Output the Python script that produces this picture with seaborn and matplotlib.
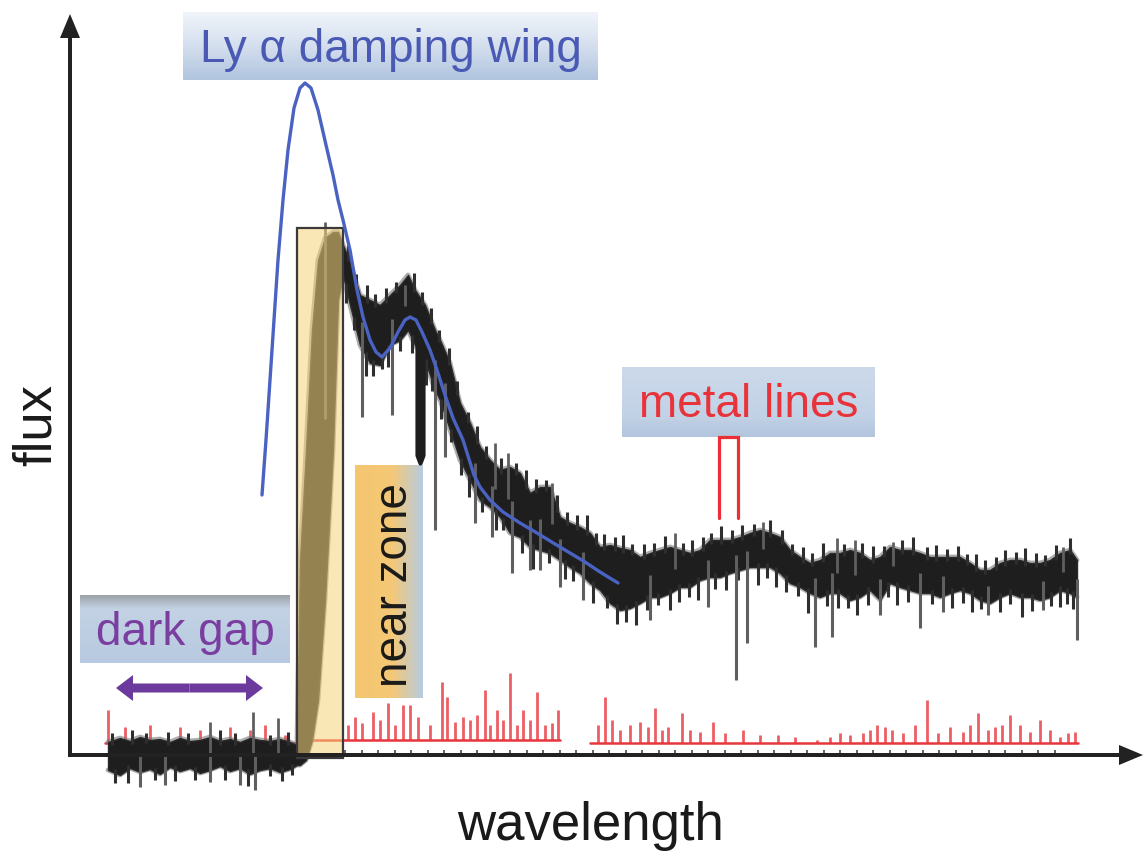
import numpy as np
import matplotlib
matplotlib.use("Agg")
import matplotlib.pyplot as plt
import seaborn as sns
from matplotlib.colors import LinearSegmentedColormap
from matplotlib.patches import Rectangle

# ---------------- data (wavelength / flux, arbitrary units) ----------------
spec_x = [38, 50, 60, 70, 80, 90, 100, 110, 120, 130, 140, 150, 160, 170, 180, 190, 200, 210, 220, 227,
          230, 236, 242, 248, 255, 263, 268, 273,
          280, 290, 300, 310, 320, 330, 338, 345, 355, 365, 370,
          380, 390, 400, 410, 420, 430, 440, 450, 460, 470, 480, 490, 500, 510, 520, 530, 540, 550, 560,
          570, 580, 590, 600, 610, 620, 630, 640, 650, 660, 670, 680, 690, 700, 710, 720, 730, 740, 750,
          760, 770, 780, 790, 800, 810, 820, 830, 840, 850, 860, 870, 880, 890, 900, 910, 920, 930, 940,
          950, 960, 970, 980, 990, 1000, 1007]
spec_hi = [13, 17, 14, 18, 15, 16, 13, 17, 14, 15, 18, 14, 16, 13, 17, 15, 14, 16, 13, 10,
           195, 305, 425, 495, 517, 523, 523, 510,
           493, 460, 455, 450, 460, 470, 480, 465, 450, 425, 415,
           392, 352, 332, 308, 295, 285, 288, 282, 262, 268, 268, 238, 232, 228, 222, 208, 210, 207, 205,
           198, 202, 205, 208, 205, 202, 205, 215, 215, 215, 218, 222, 225, 222, 218, 205, 198, 192, 195,
           202, 202, 205, 202, 195, 198, 208, 205, 205, 202, 198, 198, 198, 198, 192, 185, 185, 192, 195,
           195, 192, 192, 195, 202, 205, 195]
spec_lo = [-15, -20, -13, -17, -14, -19, -12, -16, -13, -18, -15, -11, -16, -13, -19, -15, -13, -17, -14, -10,
           -10, -5, 15, 55, 155, 305, 455, 480,
           450, 410, 392, 390, 410, 415, 425, 410, 395, 365, 355,
           325, 295, 275, 255, 248, 238, 222, 218, 208, 205, 202, 195, 188, 182, 172, 165, 152, 145, 147,
           152, 158, 158, 162, 168, 168, 175, 178, 178, 182, 185, 188, 188, 188, 182, 172, 168, 162, 158,
           162, 162, 155, 158, 165, 155, 172, 168, 165, 162, 162, 158, 162, 165, 162, 155, 152, 158, 162,
           158, 158, 155, 158, 165, 162, 158]

# narrow absorption features (tip of each line)
abs_x = [70, 95, 140, 170, 185, 292, 322, 365, 375, 405, 422, 442, 460, 470, 490, 513,
         580, 638, 666, 677, 745, 762, 810, 850, 873, 918, 973, 1007]
abs_y = [-32, -30, -27, -30, -35, 338, 340, 225, 298, 232, 218, 182, 185, 185, 168, 155,
         135, 148, 75, 112, 108, 118, 140, 127, 143, 140, 145, 115]
trough_x = [347, 350, 353]
trough_y = [300, 292, 300]
# narrow noise peaks
peak_x = [140, 183, 208, 255, 335, 425, 438, 482, 605, 693, 767, 785, 823, 993]
peak_y = [33, 43, 37, 533, 470, 312, 302, 272, 222, 233, 217, 215, 213, 208]

# pixel-scale noise excursions beyond the envelope
hair_up_x = [42, 62, 76, 98, 118, 150, 165, 200, 218,
             278, 286, 297, 305, 316, 326, 344, 352, 361, 369, 379, 387, 398, 407, 416, 431, 446, 456,
             466, 476, 487, 497, 507, 517, 526, 534, 545, 553, 562, 574, 584, 595, 613, 622, 633, 641,
             651, 662, 672, 684, 700, 712, 722, 733, 742, 753, 774, 792, 803, 814, 832, 843, 857, 866,
             877, 888, 897, 906, 915, 926, 935, 946, 955, 966, 975, 986, 1000]
hair_up_len = [8, 10, 6, 9, 7, 11, 8, 6, 9,
               12, 8, 14, 9, 11, 7, 15, 9, 12, 8, 13, 10, 7, 14, 9, 12, 8, 15,
               10, 7, 13, 9, 11, 16, 8, 12, 10, 14, 7, 11, 9, 13, 8, 12, 10, 7,
               14, 9, 11, 8, 13, 10, 7, 12, 9, 15, 8, 11, 13, 7, 10, 14, 9, 12,
               8, 11, 7, 13, 10, 9, 12, 8, 14, 10, 7, 11, 12]
hair_dn_x = [45, 58, 85, 105, 125, 155, 178, 200, 212, 222,
             276, 284, 296, 303, 312, 318, 330, 342, 356, 362, 371, 381, 391, 399, 412, 426, 433, 452,
             463, 479, 495, 503, 523, 537, 547, 556, 566, 577, 588, 600, 609, 619, 628, 645, 656, 668,
             688, 697, 706, 716, 728, 738, 757, 768, 778, 787, 798, 818, 827, 838, 862, 882, 893, 902,
             911, 930, 940, 952, 962, 981, 990, 997, 1003]
hair_dn_len = [10, 14, 8, 12, 9, 11, 13, 8, 10, 7,
               15, 9, 20, 12, 8, 18, 11, 14, 22, 10, 16, 9, 13, 19, 11, 17, 8, 14,
               21, 10, 15, 12, 18, 9, 16, 13, 20, 11, 8, 17, 14, 10, 19, 12, 15, 9,
               18, 11, 16, 13, 10, 21, 12, 15, 9, 17, 14, 11, 19, 13, 10, 16, 12, 18,
               9, 15, 11, 20, 13, 10, 17, 12, 14]

# damping-wing model
wing_x = [192, 196, 200, 204, 208, 213, 218, 224, 230, 235, 241, 248, 256, 263, 268, 273, 280, 287, 293,
          300, 306, 312, 320, 328, 335, 340, 346, 352, 360, 367, 375, 383, 393, 404, 410, 420, 433, 450,
          467, 485, 500, 515, 530, 548]
wing_y = [260, 315, 375, 435, 495, 555, 605, 647, 667, 672, 667, 645, 610, 580, 555, 535, 505, 465, 438,
          415, 403, 398, 407, 423, 435, 438, 435, 423, 405, 385, 360, 337, 315, 280, 268, 255, 243, 232,
          222, 211, 202, 193, 183, 172]

# noise / sky spectrum (red): baseline pieces and line peaks
red_start = [35, 227, 520]
red_end = [227, 490, 1008]
red_level = [12, 15, 12]
red_x = [38, 55, 80, 110, 130, 160, 180, 195, 215,
         278, 285, 292, 303, 310, 318, 325, 333, 340, 348, 360, 372, 377, 385, 393, 400, 407, 415, 420,
         427, 433, 440, 447, 453, 460, 467, 475, 482, 488,
         528, 535, 542, 550, 560, 570, 578, 585, 592, 598, 612, 620, 630, 643, 655, 673, 690, 708, 725,
         747, 760, 770, 780, 793, 800, 807, 815, 822, 833, 845, 857, 868, 880, 893, 900, 908, 918, 925,
         932, 940, 950, 960, 970, 980, 990, 998, 1005]
red_y = [45, 28, 30, 28, 25, 28, 25, 30, 20,
         30, 38, 32, 43, 35, 52, 30, 50, 50, 38, 30, 73, 58, 33, 38, 35, 40, 65, 30,
         45, 35, 82, 30, 45, 35, 63, 30, 32, 45,
         30, 58, 35, 25, 30, 33, 28, 47, 25, 28, 42, 25, 23, 33, 22, 25, 20, 20, 18,
         15, 18, 22, 20, 22, 25, 30, 28, 25, 22, 30, 55, 22, 28, 23, 30, 42, 25, 28,
         30, 40, 30, 23, 35, 25, 18, 22, 23]

# labelled regions
lya_box = (113, 528, 675, 743)
metal_box = (552, 805, 318, 388)
gap_box = (10, 220, 92, 160)
near_box = (285, 353, 57, 290)
zone_box = (227, 273, -3, 527)
bracket_x = [649, 649, 668, 668]
bracket_y = [237, 318, 318, 237]
gap_arrow = (46, 193, 67)

# ---------------- figure ----------------
sns.set_theme(style="white")
plt.rcParams["font.family"] = ["Liberation Sans", "DejaVu Sans"]

fig = plt.figure(figsize=(11.45, 8.58), dpi=100)
ax = fig.add_axes([0, 0, 1, 1])
ax.set_facecolor("white")


def gradient_box(box, stops, horizontal=False, z=1):
    x0, x1, y0, y1 = box
    cmap = LinearSegmentedColormap.from_list("g", stops)
    ramp = np.linspace(0, 1, 256)
    arr = ramp.reshape(1, -1) if horizontal else ramp.reshape(-1, 1)
    ax.imshow(arr, cmap=cmap, extent=(x0, x1, y0, y1), origin="upper",
              aspect="auto", zorder=z, interpolation="bilinear")


gradient_box(lya_box, [(0, "#f1f5fa"), (0.5, "#d4dfee"), (1, "#b0c4de")])
gradient_box(metal_box, [(0, "#ccd9ea"), (0.7, "#c2d2e6"), (1, "#b2c5de")])
gradient_box(gap_box, [(0, "#9da2a8"), (0.2, "#c3d2e4"), (1, "#b8cae1")])
gradient_box(near_box, [(0, "#f5c66f"), (0.55, "#f4c877"), (1, "#b7cce2")], horizontal=True)

# red spectrum
for s, e, lv in zip(red_start, red_end, red_level):
    sns.lineplot(x=[s, e], y=[lv, lv], ax=ax, color="#e8363c", lw=1.8, zorder=2)
base = np.interp(red_x, [35, 227, 228, 490, 520, 1008], [12, 12, 15, 15, 12, 12])
ax.vlines(red_x, base, red_y, color="#e8363c", lw=2.0, alpha=0.8, zorder=2)

# black spectrum
hi = np.array(spec_hi, float)
lo = np.array(spec_lo, float)
mid = (lo + hi) / 2
ax.plot(spec_x, hi, color="#777777", lw=3.5, alpha=0.6, zorder=3)
ax.plot(spec_x, lo, color="#777777", lw=3.5, alpha=0.6, zorder=3)
ax.fill_between(spec_x, lo, hi, color="#1e1e1e", lw=1.0, edgecolor="#2a2a2a", zorder=3)

up_base = np.interp(hair_up_x, spec_x, hi)
ax.vlines(hair_up_x, up_base - 4, up_base + np.array(hair_up_len), color="#2e2e2e", lw=2.2, zorder=3)
dn_base = np.interp(hair_dn_x, spec_x, lo)
ax.vlines(hair_dn_x, dn_base + 4, dn_base - np.array(hair_dn_len), color="#2e2e2e", lw=2.2, zorder=3)

ax.vlines(abs_x, np.interp(abs_x, spec_x, mid), abs_y, color="#5f5f5f", lw=2.2, zorder=3)
ax.vlines(peak_x, np.interp(peak_x, spec_x, mid), peak_y, color="#5f5f5f", lw=2.0, zorder=3)
ax.fill_between(trough_x, np.interp(trough_x, spec_x, mid), trough_y, color="#1e1e1e", lw=3,
                edgecolor="#1e1e1e", zorder=3)

# near-zone highlight
zx0, zx1, zy0, zy1 = zone_box
ax.add_patch(Rectangle((zx0, zy0), zx1 - zx0, zy1 - zy0, facecolor="#f7d57a", alpha=0.55,
                       edgecolor="none", zorder=4))
ax.add_patch(Rectangle((zx0, zy0), zx1 - zx0, zy1 - zy0, facecolor="none",
                       edgecolor="#3a3a3a", lw=1.6, zorder=4))

# damping wing
sns.lineplot(x=wing_x, y=wing_y, ax=ax, color="#4a62c2", lw=2.4, sort=False, estimator=None, zorder=5)

# metal-line bracket
ax.plot(bracket_x, bracket_y, color="#ec2f35", lw=2.3, solid_joinstyle="miter", zorder=5)

# dark-gap double arrow
ax_, bx_, ay_ = gap_arrow
mid_x = (ax_ + bx_) / 2
for end in (ax_, bx_):
    ax.arrow(mid_x, ay_, end - mid_x, 0, width=9, head_width=26, head_length=17,
             length_includes_head=True, color="#6b3a9c", lw=0, zorder=5)

# axes drawn as arrows
ax.arrow(0, 0, 1073, 0, width=4, head_width=20, head_length=24, length_includes_head=True,
         color="#222222", lw=0, zorder=6)
ax.arrow(0, -2, 0, 743, width=4, head_width=20, head_length=24, length_includes_head=True,
         color="#222222", lw=0, zorder=6)

# labels
fs = 33
ax.text((lya_box[0] + lya_box[1]) / 2, 693, "Ly α damping wing", color="#4a5ab4", fontsize=fs,
        ha="center", va="baseline", zorder=7)
ax.text((metal_box[0] + metal_box[1]) / 2, 338, "metal lines", color="#e8333b", fontsize=fs,
        ha="center", va="baseline", zorder=7)
ax.text((gap_box[0] + gap_box[1]) / 2, 110, "dark gap", color="#7a3da0", fontsize=fs,
        ha="center", va="baseline", zorder=7)
ax.text(325, 170, "near zone", color="#1a1a1a", fontsize=fs, rotation=90,
        ha="center", va="center", zorder=7)
ax.text(-33, 330, "flux", color="#1a1a1a", fontsize=38, rotation=90, ha="center", va="center")
ax.text(520, -85, "wavelength", color="#1a1a1a", fontsize=38, ha="center", va="baseline")

# small ticks along the wavelength axis
ax.set_xlim(-70, 1075)
ax.set_ylim(-103, 755)
for sp in ax.spines.values():
    sp.set_visible(False)
ax.spines["bottom"].set_position(("data", 0))
ax.set_xticks(np.arange(275, 1000, 16.5))
ax.set_xticklabels([])
ax.set_yticks([])
ax.tick_params(axis="x", direction="in", length=3.5, width=1.3, color="#555555", bottom=True)
ax.grid(False)

fig.savefig("out.png", dpi=100)
